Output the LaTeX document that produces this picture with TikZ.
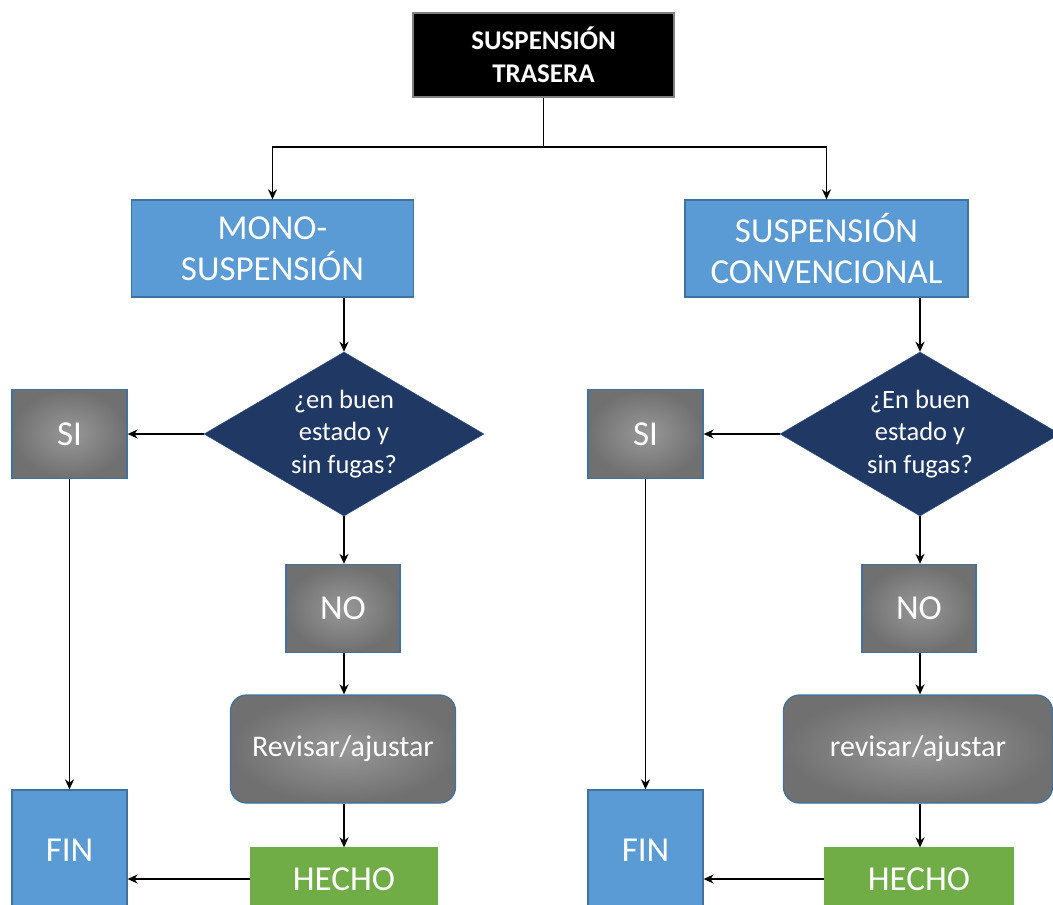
\documentclass[tikz,border=0pt]{standalone}
\usepackage{fontspec}
\setmainfont{Carlito}
\usetikzlibrary{shapes.geometric, arrows.meta}
\definecolor{azul}{RGB}{91,155,213}
\definecolor{azulBorde}{RGB}{65,113,156}
\definecolor{marino}{RGB}{31,56,100}
\definecolor{marinoBorde}{RGB}{47,82,143}
\definecolor{verde}{RGB}{112,173,71}
\definecolor{grisClaro}{RGB}{152,152,152}
\definecolor{grisOscuro}{RGB}{112,112,112}

\begin{document}
\begin{tikzpicture}[x=1pt, y=-1pt, >={Stealth[length=10pt,width=9pt]}]
    \tikzset{
      caja/.style={
        rectangle,
        draw=azulBorde,
        line width=1.3pt,
        fill=azul,
        text=white,
        inner sep=0pt,
        align=center,
        font=\fontsize{35}{41}\selectfont,
      },
      gris/.style={
        caja,
        inner color=grisClaro,
        outer color=grisOscuro,
      },
      rombo/.style={
        diamond,
        aspect=1.7,
        draw=marinoBorde,
        fill=marino,
        text=white,
        inner sep=0pt,
        align=center,
        minimum width=280pt,
        minimum height=164pt,
        font=\fontsize{26.5}{32.5}\selectfont,
      },
      flecha/.style={->, line width=1.6pt},
    }

    \useasboundingbox (0,0) rectangle (1053,905);
    \clip (0,0) rectangle (1053,905);

    % raiz
    \node[caja, fill=black, draw=gray, minimum width=261pt, minimum height=84pt,
          font=\fontsize{27}{33}\bfseries\selectfont] (top) at (543.5,55) {SUSPENSIÓN\\TRASERA};
    \coordinate (rama) at (543.5,147);

    % tipos de suspension
    \node[caja, minimum width=282pt, minimum height=97pt] (mono) at (272.5,248.5) {MONO-\\SUSPENSIÓN};
    \node[caja, minimum width=283pt, minimum height=97pt] (conv) at (826.5,248.5) {SUSPENSIÓN\\CONVENCIONAL};

    % preguntas
    \node[rombo] (dl) at (344,434) {¿en buen\\estado y\\sin fugas?};
    \node[rombo] (dr) at (920,434) {¿En buen\\estado y\\sin fugas?};

    % respuestas
    \node[gris, minimum width=115pt, minimum height=89pt] (sil) at (69.5,434) {SI};
    \node[gris, minimum width=115pt, minimum height=89pt] (sir) at (645.5,434) {SI};
    \node[gris, minimum width=114pt, minimum height=88pt] (nol) at (343,608.5) {NO};
    \node[gris, minimum width=114pt, minimum height=88pt] (nor) at (919,608.5) {NO};

    % revision
    \node[gris, rounded corners=16pt, minimum width=225pt, minimum height=108pt,
          font=\fontsize{30}{36}\selectfont] (revl) at (343,749) {Revisar/ajustar};
    \node[gris, rounded corners=16pt, minimum width=269pt, minimum height=108pt,
          font=\fontsize{30}{36}\selectfont] (revr) at (918,749) {revisar/ajustar};

    % final
    \node[caja, fill=verde, draw=verde, minimum width=187pt, minimum height=62pt] (hecl) at (344,879) {HECHO};
    \node[caja, fill=verde, draw=verde, minimum width=189pt, minimum height=62pt] (hecr) at (919,879) {HECHO};
    \node[caja, minimum width=115pt, minimum height=120pt] (finl) at (69.5,850) {FIN};
    \node[caja, minimum width=115pt, minimum height=120pt] (finr) at (645.5,850) {FIN};

    \draw[line width=1.6pt] (top.south) -- (rama);
    \path[flecha]
        (rama) edge[to path={-| (\tikztotarget)}] (mono.north)
        (rama) edge[to path={-| (\tikztotarget)}] (conv.north)
        (mono.south -| dl.north) edge (dl.north)
        (conv.south -| dr.north) edge (dr.north)

        % lado izquierdo
        (dl.west) edge (sil.east)
        (dl.south) edge (dl.south |- nol.north)
        (nol.south -| dl.south) edge (revl.north -| dl.south)
        (revl.south -| dl.south) edge (hecl.north -| dl.south)
        (sil.south) edge (finl.north)
        (hecl.west) edge (hecl.west -| finl.east)

        % lado derecho
        (dr.west) edge (sir.east)
        (dr.south) edge (dr.south |- nor.north)
        (nor.south -| dr.south) edge (revr.north -| dr.south)
        (revr.south -| dr.south) edge (hecr.north -| dr.south)
        (sir.south) edge (finr.north)
        (hecr.west) edge (hecr.west -| finr.east);
\end{tikzpicture}
\end{document}
